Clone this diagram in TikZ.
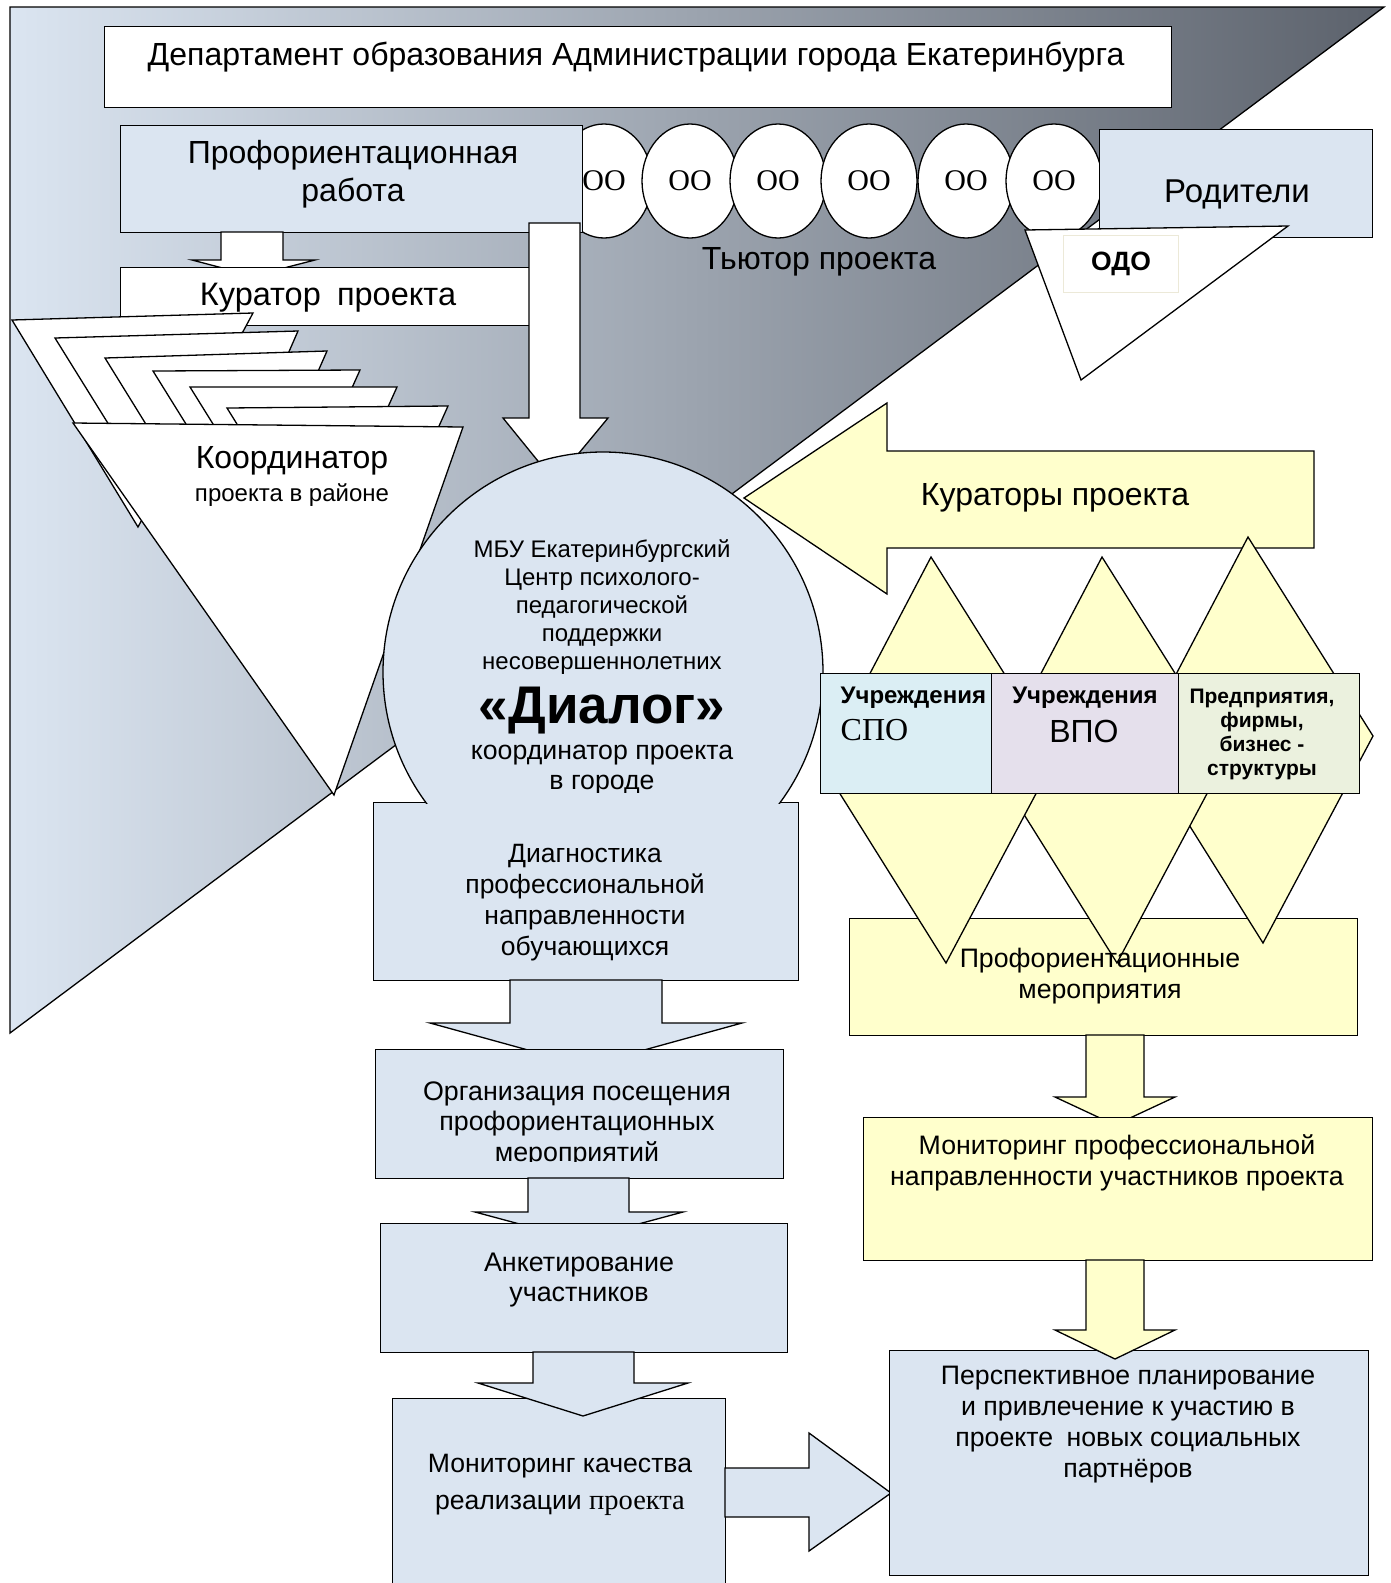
\documentclass[tikz,border=0pt]{standalone}
\usepackage{fontspec}
\setmainfont{Liberation Sans}
\newfontfamily\timesfont{Liberation Serif}
\usetikzlibrary{shapes,backgrounds,arrows,calc}
\definecolor{paleblue}{RGB}{219,229,241}
\definecolor{paleyellow}{RGB}{255,255,204}
\definecolor{spocyan}{RGB}{219,238,244}
\definecolor{vpolilac}{RGB}{229,224,236}
\definecolor{firmgreen}{RGB}{235,241,222}
\definecolor{slate}{RGB}{92,98,108}
\definecolor{odoframe}{RGB}{236,233,216}

\begin{document}
\begin{tikzpicture}[x=1pt,y=-1pt,line width=1.3pt,
	panel/.style={draw=black,fill=#1,inner sep=0pt,anchor=north west},
	lbl/.style={align=center,inner sep=0pt,text=black},
	oo/.style={ellipse,draw=black,fill=white,minimum width=96,minimum height=114,inner sep=0pt,font=\timesfont\fontsize{30}{30}\selectfont}]
	\useasboundingbox (0,0) rectangle (1391,1583);
	% background wedge
	\coordinate (bgA) at (10,7);
	\coordinate (bgB) at (1384,7);
	\coordinate (bgC) at (10,1033);
	\shade[left color=paleblue,right color=slate] (bgA) -- (bgB) -- (bgC) -- cycle;
	\draw (bgA) -- (bgB) -- (bgC) -- cycle;
	% top of the scheme
	\node[panel=white,minimum width=1067,minimum height=81] (dept) at (104,26) {};
	\node[lbl,font=\fontsize{32}{32}\selectfont] (depttext) at (636,57) {Департамент образования Администрации города Екатеринбурга};
	\node[oo] (oo1) at (604,181) {ОО};
	\node[oo] (oo2) at (690,181) {ОО};
	\node[oo] (oo3) at (778,181) {ОО};
	\node[oo] (oo4) at (869,181) {ОО};
	\node[oo] (oo5) at (966,181) {ОО};
	\node[oo] (oo6) at (1054,181) {ОО};
	\node[panel=paleblue,minimum width=462,minimum height=107] (prof) at (120,125) {};
	\node[lbl,font=\fontsize{32}{38}\selectfont] (proftext) at (353,174) {Профориентационная\\работа};
	\node[panel=paleblue,minimum width=273,minimum height=108] (parents) at (1099,129) {};
	\node[lbl,font=\fontsize{33}{33}\selectfont] (parentstext) at (1237,194) {Родители};
	\draw[fill=white] (1025,230) -- (1288,226) -- (1081,380) -- cycle;
	\node[draw=odoframe,line width=0.8pt,fill=white,minimum width=115,minimum height=57,inner sep=0pt,font=\bfseries\fontsize{26.5}{26.5}\selectfont] (odo) at (1121,264) {ОДО};
	\node[lbl,font=\fontsize{32}{32}\selectfont] (tutor) at (819,262) {Тьютор проекта};
	% left branch
	\draw[fill=white] (221,232) -- (221,260) -- (192,260) -- (253,276) -- (315,260) -- (283,260) -- (283,232) -- cycle;
	\node[panel=white,minimum width=409,minimum height=58] (curator) at (120,267) {};
	\node[lbl,font=\fontsize{32.5}{32.5}\selectfont] (curatortext) at (328,298) {Куратор\enspace проекта};
	\draw[fill=white] (529,223) -- (529,418) -- (503,418) -- (555,482) -- (608,418) -- (580,418) -- (580,223) -- cycle;
	\draw[fill=white] (12,320) -- (253,313) -- (138,527) -- cycle;
	\draw[fill=white] (55,338) -- (298,331) -- (196,565) -- cycle;
	\draw[fill=white] (105,358) -- (327,351) -- (233,565) -- cycle;
	\draw[fill=white] (153,371) -- (360,370) -- (273,564) -- cycle;
	\draw[fill=white] (190,387) -- (397,387) -- (310,580) -- cycle;
	\draw[fill=white] (227,408) -- (448,406) -- (355,614) -- cycle;
	\draw[fill=white] (73,423) -- (463,427) -- (334,795) -- cycle;
	\node[lbl,font=\fontsize{32}{32}\selectfont] (coordtext) at (292,461) {Координатор};
	\node[lbl,font=\fontsize{24}{24}\selectfont] (coordsub) at (292,495) {проекта в районе};
	% centre
	\node[panel=paleblue,minimum width=425,minimum height=178] (diag) at (373,802) {};
	\node[lbl,font=\fontsize{26.5}{31}\selectfont] (diagtext) at (585,903) {Диагностика\\профессиональной\\направленности\\обучающихся};
	\begin{scope}
		\clip (350,420) rectangle (860,803);
		\node[circle,draw=black,fill=paleblue,minimum size=440,inner sep=0pt] (dialog) at (603,672) {};
	\end{scope}
	\begin{scope}
		\clip (350,420) rectangle (860,792);
		\node[lbl,font=\fontsize{24}{28}\selectfont] (dialogtop) at (602,607) {МБУ Екатеринбургский\\Центр психолого-\\педагогической\\поддержки\\несовершеннолетних};
		\node[lbl,font=\bfseries\fontsize{53}{53}\selectfont] (dialogname) at (602,711) {«Диалог»};
		\node[lbl,font=\fontsize{26.7}{30}\selectfont] (dialogcity) at (602,770) {координатор проекта\\в городе};
	\end{scope}
	\draw[fill=paleblue] (510,980) -- (510,1023) -- (430,1023) -- (586,1066) -- (742,1023) -- (662,1023) -- (662,980) -- cycle;
	\node[panel=paleblue,minimum width=408,minimum height=129] (visit) at (375,1049) {};
	\begin{scope}
		\clip (375,1049) rectangle (783,1161);
		\node[lbl,font=\fontsize{26.8}{30.5}\selectfont] (visittext) at (577,1124) {Организация посещения\\профориентационных\\мероприятий};
	\end{scope}
	\draw[fill=paleblue] (528,1178) -- (528,1212) -- (475,1212) -- (579,1240) -- (683,1212) -- (629,1212) -- (629,1178) -- cycle;
	\node[panel=paleblue,minimum width=407,minimum height=129] (survey) at (380,1223) {};
	\node[lbl,font=\fontsize{26.9}{30}\selectfont] (surveytext) at (579,1280) {Анкетирование\\участников};
	\node[panel=paleblue,minimum width=333,minimum height=220] (quality) at (392,1398) {};
	\draw[fill=paleblue] (533,1352) -- (533,1383) -- (478,1383) -- (583,1416) -- (688,1383) -- (634,1383) -- (634,1352) -- cycle;
	\node[lbl,font=\fontsize{26.6}{37}\selectfont] (qualitytext) at (560,1485) {Мониторинг качества\\реализации {\timesfont\fontsize{28.5}{37}\selectfont проекта}};
	\draw[fill=paleblue] (725,1468) -- (809,1468) -- (809,1433) -- (891,1493) -- (809,1551) -- (809,1517) -- (725,1517) -- cycle;
	% right branch
	\draw[fill=paleyellow] (744,498) -- (887,403) -- (887,451) -- (1314,451) -- (1314,548) -- (887,548) -- (887,594) -- cycle;
	\node[lbl,font=\fontsize{32}{32}\selectfont] (curatorstext) at (1055,498) {Кураторы проекта};
	\node[panel=paleyellow,minimum width=508,minimum height=117] (events) at (849,918) {};
	\draw[fill=paleyellow] (1248,537) -- (1373,736) -- (1263,943) -- (1139,745) -- cycle;
	\draw[fill=paleyellow] (1102,557) -- (1227,756) -- (1117,963) -- (993,765) -- cycle;
	\draw[fill=paleyellow] (931,557) -- (1056,756) -- (946,963) -- (822,765) -- cycle;
	\node[panel=spocyan,minimum width=171,minimum height=120] (spo) at (820,673) {};
	\node[panel=vpolilac,minimum width=187,minimum height=120] (vpo) at (991,673) {};
	\node[panel=firmgreen,minimum width=181,minimum height=120] (firms) at (1178,673) {};
	\node[lbl,anchor=west,font=\bfseries\fontsize{24}{24}\selectfont] (spotitle) at (840,698) {Учреждения};
	\node[lbl,anchor=west,font=\timesfont\fontsize{32}{32}\selectfont] (sponame) at (840,730) {СПО};
	\node[lbl,font=\bfseries\fontsize{24}{24}\selectfont] (vpotitle) at (1085,698) {Учреждения};
	\node[lbl,font=\fontsize{32}{32}\selectfont] (vponame) at (1084,731) {ВПО};
	\node[lbl,font=\bfseries\fontsize{21}{24}\selectfont] (firmstext) at (1262,734) {Предприятия,\\фирмы,\\бизнес -\\структуры};
	\node[lbl,font=\fontsize{26.7}{31}\selectfont] (eventstext) at (1100,976) {Профориентационные\\мероприятия};
	\draw[fill=paleyellow] (1086,1035) -- (1086,1097) -- (1055,1097) -- (1115,1125) -- (1175,1097) -- (1144,1097) -- (1144,1035) -- cycle;
	\node[panel=paleyellow,minimum width=509,minimum height=143] (monitor) at (863,1117) {};
	\node[lbl,font=\fontsize{26.7}{30.5}\selectfont] (monitortext) at (1117,1163) {Мониторинг профессиональной\\направленности участников проекта};
	\node[panel=paleblue,minimum width=479,minimum height=225] (plan) at (889,1350) {};
	\draw[fill=paleyellow] (1086,1260) -- (1086,1330) -- (1055,1330) -- (1115,1359) -- (1175,1330) -- (1144,1330) -- (1144,1260) -- cycle;
	\node[lbl,font=\fontsize{26.7}{31}\selectfont] (plantext) at (1128,1425) {Перспективное планирование\\и привлечение к участию в\\проекте\enspace новых социальных\\партнёров};
\end{tikzpicture}
\end{document}
